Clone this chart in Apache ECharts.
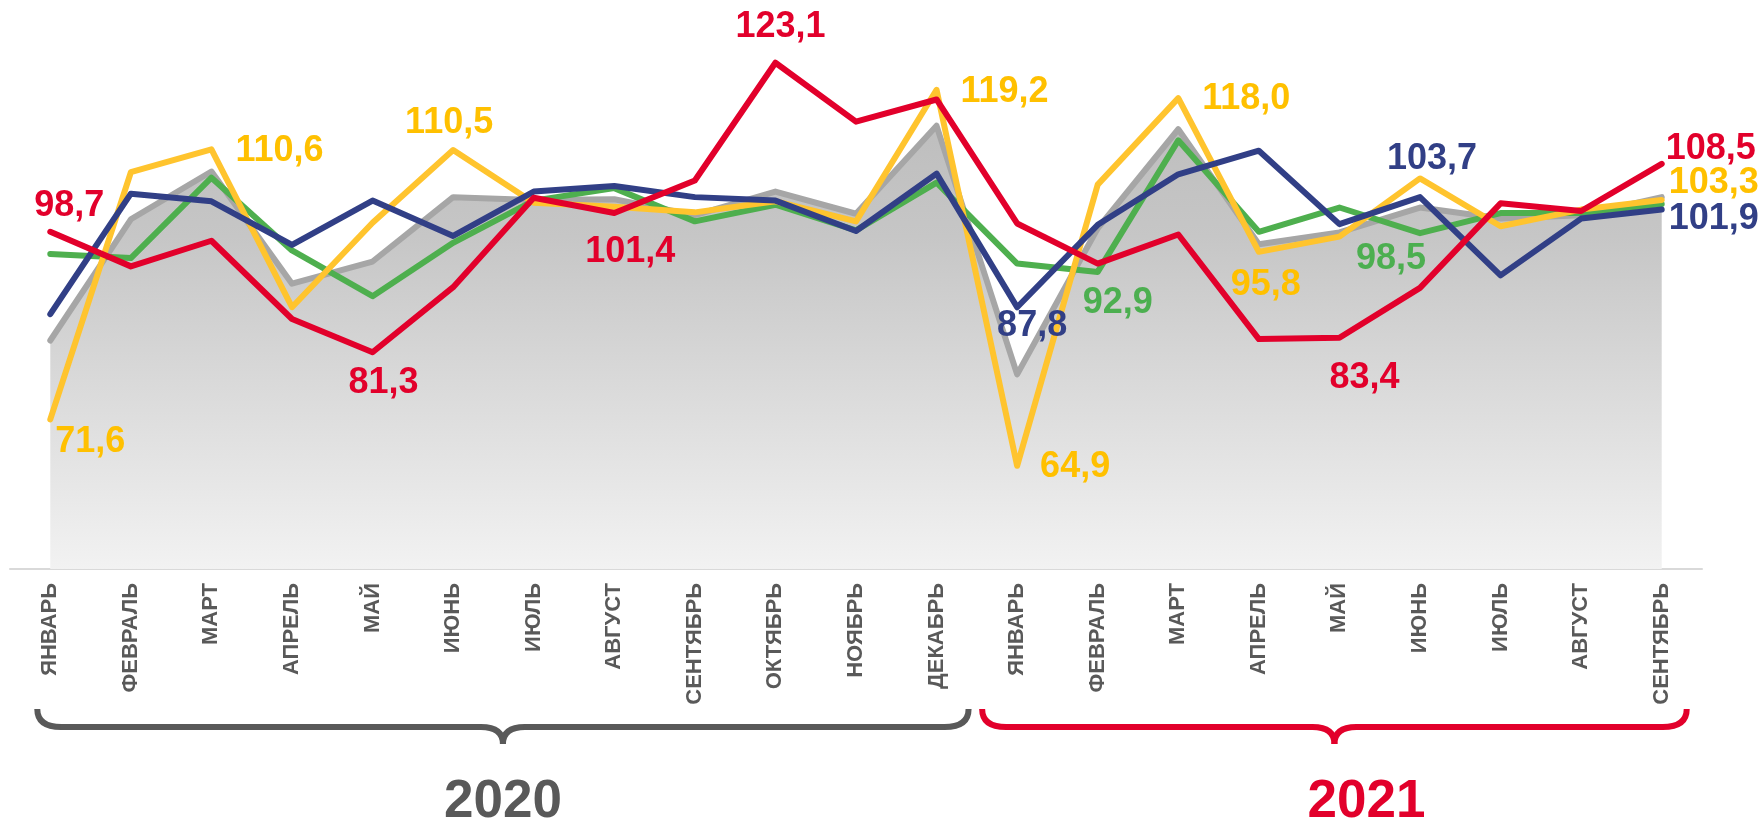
<!DOCTYPE html>
<html><head><meta charset="utf-8">
<script src="https://cdn.jsdelivr.net/npm/echarts@6/dist/echarts.min.js"></script>
<style>html,body{margin:0;padding:0;background:#fff}#c{width:1762px;height:825px}</style>
</head><body><div id="c"></div>
<script>
// ---------------- DATA ----------------
const months2020 = ['ЯНВАРЬ','ФЕВРАЛЬ','МАРТ','АПРЕЛЬ','МАЙ','ИЮНЬ','ИЮЛЬ','АВГУСТ','СЕНТЯБРЬ','ОКТЯБРЬ','НОЯБРЬ','ДЕКАБРЬ'];
const months2021 = ['ЯНВАРЬ','ФЕВРАЛЬ','МАРТ','АПРЕЛЬ','МАЙ','ИЮНЬ','ИЮЛЬ','АВГУСТ','СЕНТЯБРЬ'];
const categories = months2020.concat(months2021);
const yearLabels = ['2020', '2021'];

const grayValues   = [83.0,100.5,107.4,91.2,94.4,103.7,103.3,103.4,101.1,104.5,101.3,114.0, 78.1,99.2,113.5,96.9,98.6,102.2,100.6,101.1,103.7];
const greenValues  = [95.5,94.9,106.5,96.0,89.4,97.1,103.2,105.0,100.2,102.6,98.9,105.8, 94.1,92.9,111.9,98.7,102.2,98.5,101.4,101.4,102.7];
const yellowValues = [71.6,107.3,110.6,87.8,100.0,110.5,102.9,102.3,101.5,103.1,100.2,119.2, 64.9,105.5,118.0,95.8,98.0,106.4,99.5,101.9,103.3];
const redValues    = [98.7,93.7,97.4,86.1,81.3,90.7,103.6,101.4,106.1,123.1,114.6,117.8, 99.9,94.1,98.3,83.2,83.4,90.6,102.8,101.7,108.5];
const blueValues   = [86.8,104.2,103.1,96.8,103.2,98.1,104.5,105.3,103.7,103.2,98.8,107.1, 87.8,99.7,107.0,110.4,99.8,103.7,92.4,100.6,101.9];

// which points carry a value label
const labelledPoints = {
  red:    [0, 4, 7, 9, 16, 20],
  yellow: [0, 2, 5, 11, 12, 14, 15, 20],
  green:  [13, 17],
  blue:   [12, 17, 20]
};

// ---------------- STYLE / LAYOUT ----------------
const COLORS = {gray:'#A6A6A6', green:'#4EAF4E', yellow:'#FFC42E', red:'#E2002B', blue:'#313F86'};
const LABEL_COLORS = {green:'#4CAF50', yellow:'#FFC000', red:'#E2002B', blue:'#313F86'};
const labelOffsets = {
  red:    {0:[19,-26], 4:[11,31], 7:[16,39], 9:[5,-36], 16:[25,40], 20:[49,-15]},
  yellow: {0:[40,23], 2:[68,2], 5:[-4,-27], 11:[68,2], 12:[58,1], 14:[68,1], 15:[7,33], 20:[52,-17]},
  green:  {13:[20,31], 17:[-29,26]},
  blue:   {12:[15,19], 17:[12,-38], 20:[52,9]}
};

function fontOK(name){
  const c = document.createElement('canvas').getContext('2d');
  c.font = "bold 40px monospace";
  const a = c.measureText('ЯНВАРЬ abc').width;
  c.font = "bold 40px '" + name + "', monospace";
  const b = c.measureText('ЯНВАРЬ abc').width;
  return a !== b;
}
const narrow = fontOK('Liberation Sans Narrow');
const axisFont = narrow ? {fontFamily:"'Liberation Sans Narrow'", fontSize:26}
                        : {fontFamily:"'Liberation Sans', Arial", fontSize:22};

function buildData(key, values){
  const idx = labelledPoints[key] || [];
  return values.map((v, i) => {
    if (idx.indexOf(i) < 0) return v;
    return {
      value: v,
      label: {
        show: true, position: 'inside', offset: labelOffsets[key][i],
        align: 'center', verticalAlign: 'middle',
        color: LABEL_COLORS[key], fontSize: 36, fontWeight: 'bold',
        fontFamily: "'Liberation Sans', Arial",
        formatter: p => p.value.toFixed(1).replace('.', ',')
      }
    };
  });
}

function lineSeries(key, values, z){
  return {
    type: 'line', name: key, z: z,
    data: buildData(key, values),
    symbol: 'circle', symbolSize: 1, showSymbol: true, showAllSymbol: true,
    itemStyle: {color: COLORS[key]},
    lineStyle: {color: COLORS[key], width: 6, cap: 'round', join: 'round'},
    label: {show: false},
    emphasis: {disabled: true}
  };
}

const chart = echarts.init(document.getElementById('c'));
chart.setOption({
  animation: false,
  backgroundColor: '#ffffff',
  grid: {left: 10, right: 60, top: 15, bottom: 256, containLabel: false},
  xAxis: {
    type: 'category', data: categories, boundaryGap: true,
    axisLine: {show: true, lineStyle: {color: '#D9D9D9', width: 2}},
    axisTick: {show: false},
    axisLabel: {interval: 0, rotate: 90, margin: 14, color: '#595959', fontWeight: 'bold',
                fontFamily: axisFont.fontFamily, fontSize: axisFont.fontSize}
  },
  yAxis: {type: 'value', min: 50, max: 130, show: false, splitLine: {show: false}},
  series: [
    {
      type: 'line', name: 'gray', z: 1, data: grayValues, symbol: 'none',
      lineStyle: {color: COLORS.gray, width: 6, cap: 'round', join: 'round'},
      areaStyle: {opacity: 1, origin: 'start', color: new echarts.graphic.LinearGradient(0, 0, 0, 1, [
        {offset: 0, color: '#BEBEBE'}, {offset: 0.25, color: '#C6C6C6'}, {offset: 1, color: '#F2F2F2'}
      ])},
      emphasis: {disabled: true}
    },
    lineSeries('green', greenValues, 2),
    lineSeries('yellow', yellowValues, 3),
    lineSeries('blue', blueValues, 4),
    lineSeries('red', redValues, 5)
  ]
});

// ---------- year braces, placed from the category axis ----------
function px(i){ return chart.convertToPixel({xAxisIndex: 0}, i); }
const yTop = 709, yMid = 727, yBot = 744;
function braceElements(x0, x1, xc, color){
  const r = 24, rc = 22;
  const st = {fill: 'none', stroke: color, lineWidth: 6, lineCap: 'butt'};
  const curve = (a, b, c, d, e, f) => ({type: 'bezierCurve', silent: true,
    shape: {x1: a, y1: b, cpx1: c, cpy1: d, x2: e, y2: f}, style: st});
  const line = (a, b, c, d) => ({type: 'line', silent: true,
    shape: {x1: a, y1: b, x2: c, y2: d}, style: st});
  return [
    curve(x0, yTop, x0, yMid, x0 + r, yMid),
    line(x0 + r - 1, yMid, xc - rc + 1, yMid),
    curve(xc - rc, yMid, xc, yMid, xc, yBot),
    curve(xc, yBot, xc, yMid, xc + rc, yMid),
    line(xc + rc - 1, yMid, x1 - r + 1, yMid),
    curve(x1 - r, yMid, x1, yMid, x1, yTop)
  ];
}
const g0 = px(0) - 13, g1 = px(months2020.length - 1) + 32, gc = (g0 + g1) / 2;
const r0 = px(months2020.length) - 35, r1 = px(categories.length - 1) + 25, rc = (r0 + r1) / 2;

const graphics = []
  .concat(braceElements(g0, g1, gc, '#595959'))
  .concat(braceElements(r0, r1, rc, '#E2002B'))
  .concat([
    {type: 'text', x: gc, y: 802, silent: true,
     style: {text: yearLabels[0], fill: '#595959', fontSize: 53, fontWeight: 'bold',
             fontFamily: "'Liberation Sans', Arial", align: 'center', verticalAlign: 'middle'}},
    {type: 'text', x: rc + 32, y: 802, silent: true,
     style: {text: yearLabels[1], fill: '#E2002B', fontSize: 53, fontWeight: 'bold',
             fontFamily: "'Liberation Sans', Arial", align: 'center', verticalAlign: 'middle'}}
  ]);
chart.setOption({graphic: graphics});
</script>
</body></html>
